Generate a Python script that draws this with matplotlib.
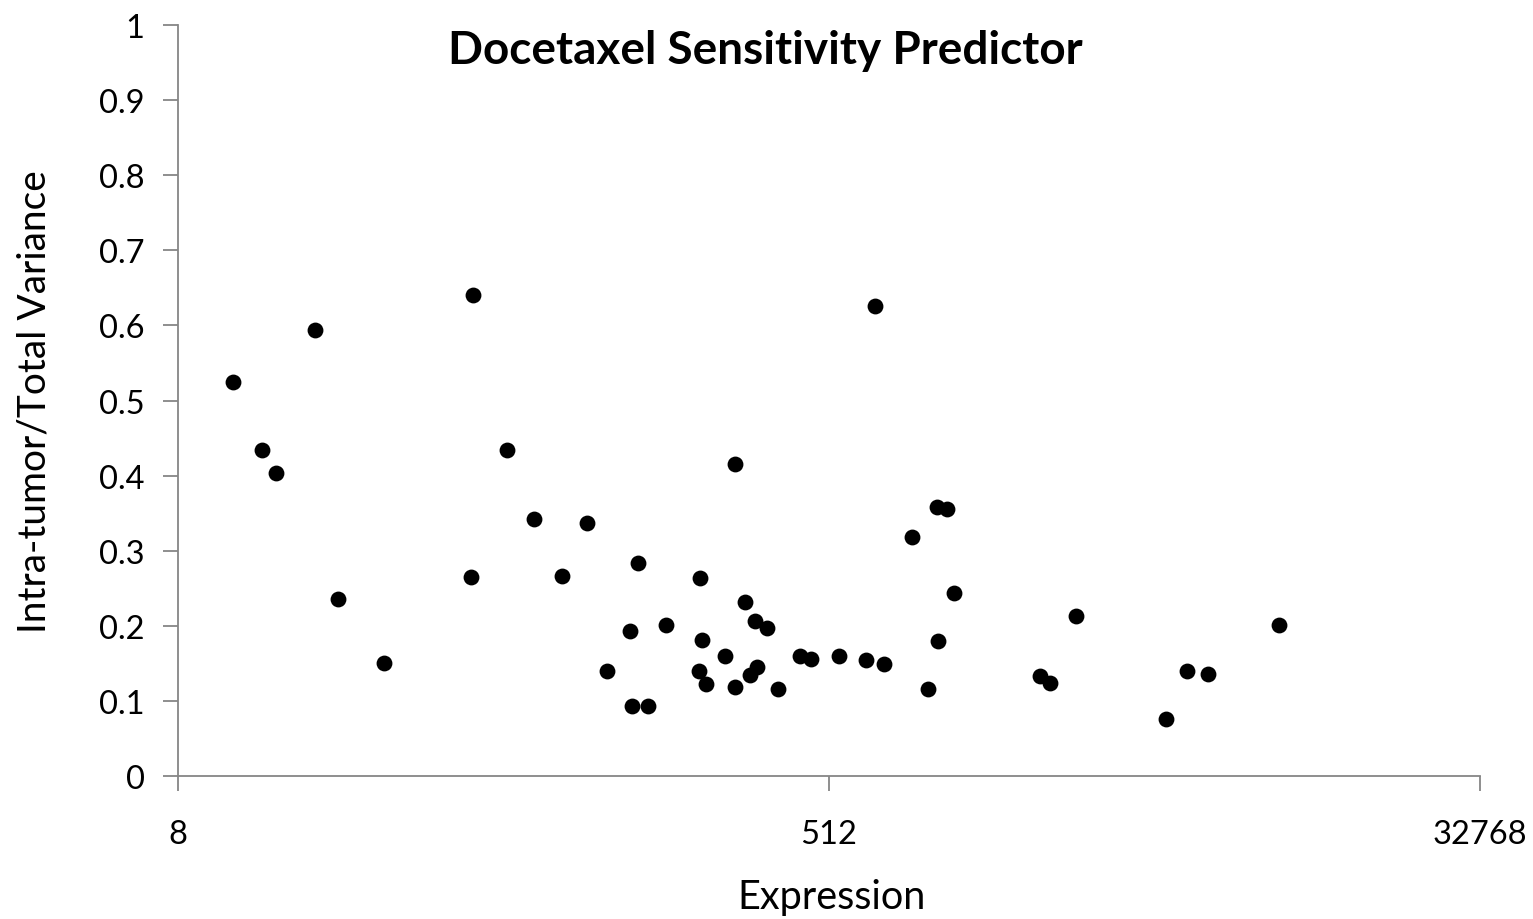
import matplotlib
matplotlib.use("Agg")
import matplotlib.pyplot as plt
import numpy as np

# expression values (log2 axis) and variance ratio
expression = [11.4, 13.7, 15.0, 19.2, 22.2, 29.8, 52.7, 52.0, 65.4, 77.8,
              93.0, 109, 124, 144, 145, 151, 161, 181, 223, 225,
              227, 233, 263, 281, 281, 299, 309, 319, 323, 345,
              370, 425, 456, 546, 648, 687, 727, 870, 963, 1020,
              1027, 1088, 1138, 1971, 2101, 2480, 4407, 5041, 5766, 9073]
variance_ratio = [0.525, 0.434, 0.403, 0.594, 0.236, 0.150, 0.640, 0.265, 0.434, 0.342,
                  0.266, 0.337, 0.140, 0.193, 0.093, 0.284, 0.093, 0.201, 0.140, 0.264,
                  0.181, 0.123, 0.160, 0.415, 0.119, 0.232, 0.134, 0.206, 0.145, 0.197,
                  0.116, 0.160, 0.156, 0.160, 0.154, 0.626, 0.149, 0.318, 0.116, 0.358,
                  0.180, 0.356, 0.244, 0.133, 0.124, 0.213, 0.076, 0.140, 0.136, 0.201]

x_ticks = [8, 512, 32768]
y_ticks = [0, 0.1, 0.2, 0.3, 0.4, 0.5, 0.6, 0.7, 0.8, 0.9, 1]
y_labels = ["0", "0.1", "0.2", "0.3", "0.4", "0.5", "0.6", "0.7", "0.8", "0.9", "1"]

plt.rcParams["font.family"] = ["Lato", "DejaVu Sans"]
axis_grey = "#868686"

fig = plt.figure(figsize=(15.33, 9.2), dpi=100)
ax = fig.add_axes([178 / 1533, 143 / 920, 1302 / 1533, 751 / 920])

ax.scatter(expression, variance_ratio, s=130, color="black", zorder=3, linewidths=0)

ax.set_xscale("log", base=2)
ax.set_xlim(8, 32768)
ax.set_ylim(0, 1)
ax.set_xticks(x_ticks)
ax.set_xticklabels([str(t) for t in x_ticks])
ax.minorticks_off()
ax.set_yticks(y_ticks)
ax.set_yticklabels(y_labels)

for side in ("top", "right"):
    ax.spines[side].set_visible(False)
for side in ("left", "bottom"):
    ax.spines[side].set_color(axis_grey)
    ax.spines[side].set_linewidth(1.3)
ax.tick_params(axis="both", colors=axis_grey, labelcolor="black", labelsize=23.5,
               length=11, width=1.3)
ax.tick_params(axis="x", pad=20)
ax.tick_params(axis="y", pad=13)

fig.text(765 / 1533, 1 - 51 / 920, "Docetaxel Sensitivity Predictor",
         ha="center", va="center", fontsize=33, fontweight="bold")
fig.text(832 / 1533, 1 - 898 / 920, "Expression", ha="center", va="center",
         fontsize=28.5)
fig.text(35 / 1533, 1 - 402 / 920, "Intra-tumor/Total Variance", ha="center",
         va="center", rotation=90, fontsize=28)

fig.savefig("out.png", dpi=100)
